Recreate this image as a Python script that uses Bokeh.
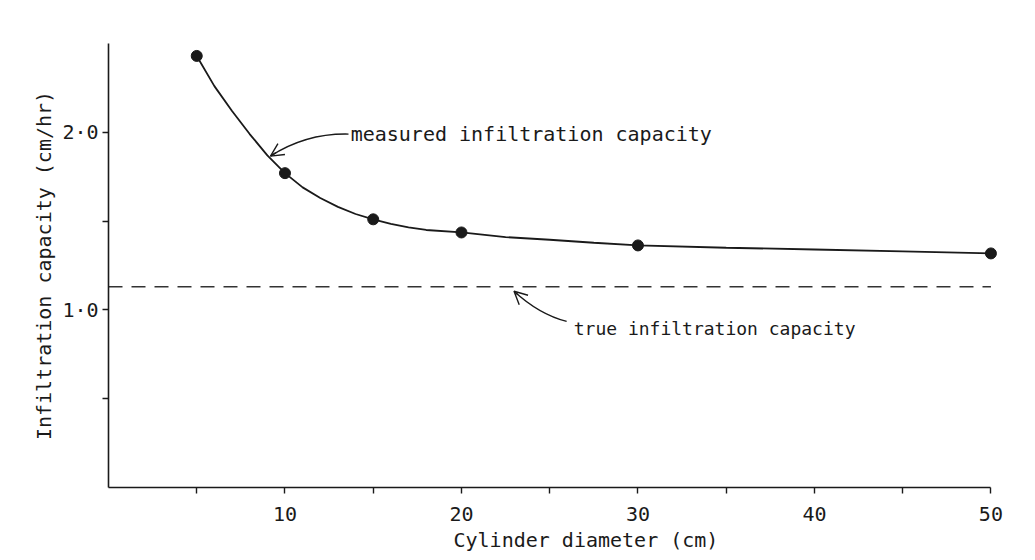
from bokeh.plotting import figure
from bokeh.models import FixedTicker, Arrow, OpenHead, Label, Title
from bokeh.embed import file_html
from bokeh.resources import INLINE

# Measured points
diameter_cm = [5, 10, 15, 20, 30, 50]
measured_capacity = [2.43, 1.77, 1.51, 1.436, 1.363, 1.318]

# Hand-drawn smooth curve
curve_x = [5, 6, 7, 8, 9, 10, 11, 12, 13, 14, 15, 16, 17, 18, 20, 22.5, 25, 27.5, 30, 35, 40, 45, 50]
curve_y = [2.43, 2.26, 2.12, 1.99, 1.87, 1.77, 1.69, 1.63, 1.58, 1.54, 1.51, 1.485, 1.465, 1.45,
           1.436, 1.41, 1.395, 1.378, 1.363, 1.35, 1.34, 1.329, 1.318]

# True infiltration capacity
true_capacity = 1.13
true_x = [0, 50]

x_major = [10, 20, 30, 40, 50]
x_minor = [5, 15, 25, 35, 45]
y_major = [1.0, 2.0]
y_minor = [0.5, 1.5]
y_labels = {1: "1·0", 2: "2·0"}

FONT = "DejaVu Sans Mono"
INK = "#1a1a1a"

p = figure(width=1035, height=560, x_range=(0, 50.6), y_range=(0, 2.5),
           output_backend="svg", toolbar_location=None,
           min_border_left=108, min_border_right=34, min_border_top=43, min_border_bottom=73)
p.outline_line_color = None
p.grid.visible = False
p.background_fill_color = "white"
p.border_fill_color = "white"

p.xaxis.bounds = (0, 50)
p.xaxis.ticker = FixedTicker(ticks=x_major, minor_ticks=x_minor)
p.yaxis.ticker = FixedTicker(ticks=y_major, minor_ticks=y_minor)
p.yaxis.major_label_overrides = y_labels
p.yaxis.axis_label = "Infiltration capacity (cm/hr)"

for ax in (p.xaxis, p.yaxis):
    ax.axis_line_color = INK
    ax.axis_line_width = 1.6
    ax.major_tick_line_color = INK
    ax.minor_tick_line_color = INK
    ax.major_tick_line_width = 1.4
    ax.minor_tick_line_width = 1.4
    ax.major_tick_in = 0
    ax.major_tick_out = 6
    ax.minor_tick_in = 0
    ax.minor_tick_out = 6
    ax.major_label_text_font = FONT
    ax.major_label_text_font_size = "20px"
    ax.major_label_text_color = INK
    ax.axis_label_text_font = FONT
    ax.axis_label_text_font_size = "20px"
    ax.axis_label_text_font_style = "normal"
    ax.axis_label_text_color = INK

p.xaxis.major_label_standoff = 13
p.yaxis.major_label_standoff = 4
p.yaxis.axis_label_standoff = 3

# x-axis title, placed right of centre as in the reference
p.add_layout(Title(text="Cylinder diameter (cm)", align="left", offset=345,
                   text_font=FONT, text_font_size="20px", text_font_style="normal",
                   text_color=INK, standoff=5), "below")

# dashed true capacity line
p.line(true_x, [true_capacity, true_capacity], line_color="#333333", line_width=1.5,
       line_dash="14 9")

# curve and points
p.line(curve_x, curve_y, line_color=INK, line_width=1.8)
p.scatter(diameter_cm, measured_capacity, size=11, fill_color=INK, line_color=INK)

# annotation 1: measured
tip1 = (9.18, 1.866)
ctrl1 = (11.2, 1.995)
start1 = (13.6, 1.99)
p.quadratic(x0=[start1[0]], y0=[start1[1]], x1=[tip1[0]], y1=[tip1[1]],
            cx=[ctrl1[0]], cy=[ctrl1[1]], line_color=INK, line_width=1.4)
p.add_layout(Arrow(end=OpenHead(size=13, line_color=INK, line_width=1.4),
                   x_start=tip1[0] + 0.15 * (ctrl1[0] - tip1[0]),
                   y_start=tip1[1] + 0.15 * (ctrl1[1] - tip1[1]),
                   x_end=tip1[0], y_end=tip1[1], line_color=INK, line_width=1.4))
p.add_layout(Label(x=13.72, y=1.99, text="measured infiltration capacity",
                   text_font=FONT, text_font_size="20px", text_color=INK,
                   text_baseline="middle", text_align="left"))

# annotation 2: true
tip2 = (22.98, 1.105)
ctrl2 = (24.4, 0.975)
start2 = (25.96, 0.935)
p.quadratic(x0=[start2[0]], y0=[start2[1]], x1=[tip2[0]], y1=[tip2[1]],
            cx=[ctrl2[0]], cy=[ctrl2[1]], line_color=INK, line_width=1.4)
p.add_layout(Arrow(end=OpenHead(size=13, line_color=INK, line_width=1.4),
                   x_start=tip2[0] + 0.15 * (ctrl2[0] - tip2[0]),
                   y_start=tip2[1] + 0.15 * (ctrl2[1] - tip2[1]),
                   x_end=tip2[0], y_end=tip2[1], line_color=INK, line_width=1.4))
p.add_layout(Label(x=26.36, y=0.895, text="true infiltration capacity",
                   text_font=FONT, text_font_size="18px", text_color=INK,
                   text_baseline="middle", text_align="left"))

open("out.html", "w").write(file_html(p, INLINE))
